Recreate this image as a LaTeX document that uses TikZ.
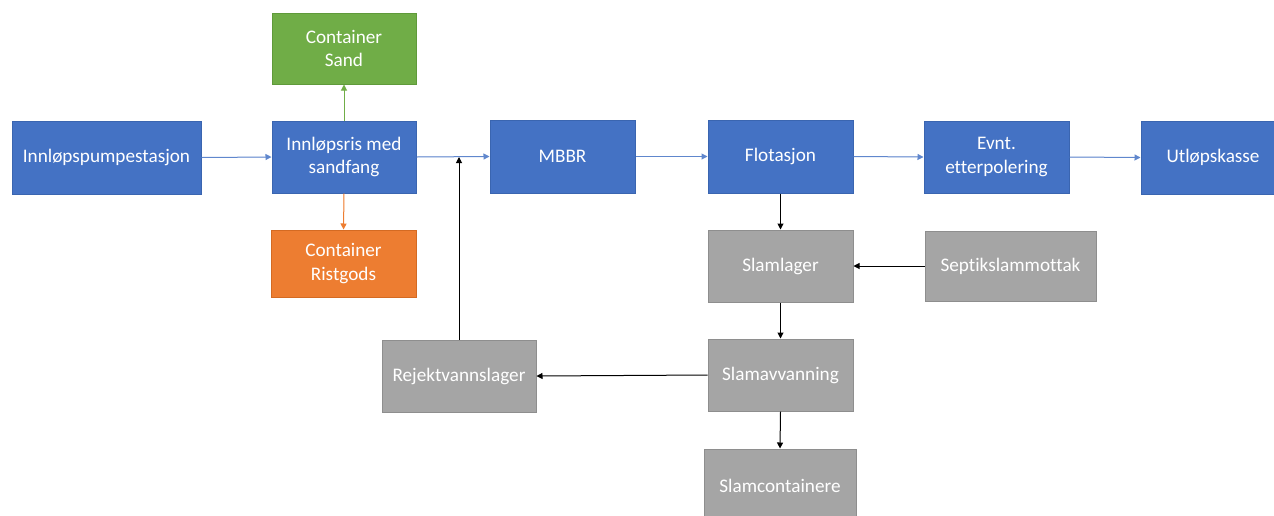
\documentclass[tikz,border=0pt]{standalone}
\usepackage{fontspec}
\setmainfont[Ligatures=NoCommon]{Carlito}
\usetikzlibrary{arrows.meta}
\definecolor{cblue}{HTML}{4472C4}
\definecolor{cbluedk}{HTML}{3A65B0}
\definecolor{cgreen}{HTML}{70AD47}
\definecolor{cgreendk}{HTML}{5F9A3A}
\definecolor{corange}{HTML}{ED7D31}
\definecolor{corangedk}{HTML}{D46A22}
\definecolor{cgray}{HTML}{A5A5A5}
\definecolor{cgraydk}{HTML}{8E8E8E}
\tikzset{
  box/.style={rectangle, inner sep=0pt, text=white, align=center,
    font=\fontsize{19.2}{23.5}\selectfont, line width=1pt},
  bluebox/.style={box, fill=cblue, draw=cbluedk},
  greenbox/.style={box, fill=cgreen, draw=cgreendk},
  orangebox/.style={box, fill=corange, draw=corangedk},
  graybox/.style={box, fill=cgray, draw=cgraydk},
  arr/.style={line width=1pt, -{Triangle[length=6pt,width=6pt]}},
  bluearr/.style={arr, draw=cblue!85!white, fill=cblue},
  blackarr/.style={arr, draw=black},
}
\begin{document}
\begin{tikzpicture}[x=1pt,y=-1pt]
\useasboundingbox (0,0) rectangle (1274,515);
\clip (0,0) rectangle (1274,515);
\node[bluebox, minimum width=189pt, minimum height=73pt] (pump) at (106.5,157.5) {Innløpspumpestasjon};
\node[bluebox, minimum width=144pt, minimum height=72pt] (ris) at (344,157) {Innløpsris med\\sandfang};
\node[greenbox, minimum width=144pt, minimum height=71pt] (sand) at (344,48.5) {Container\\Sand};
\node[orangebox, minimum width=145pt, minimum height=67pt] (rist) at (343.5,263.5) {Container\\Ristgods};
\node[bluebox, minimum width=145pt, minimum height=73pt] (mbbr) at (562.5,156.5) {MBBR};
\node[bluebox, minimum width=145pt, minimum height=73pt] (flot) at (780.5,156.5) {Flotasjon};
\node[bluebox, minimum width=145pt, minimum height=72pt] (evnt) at (996.5,157) {Evnt.\\etterpolering};
\node[bluebox, minimum width=144pt, minimum height=73pt] (utl) at (1213,157.5) {Utløpskasse};
\node[graybox, minimum width=145pt, minimum height=72pt] (slamlager) at (780.5,266) {Slamlager};
\node[graybox, minimum width=171pt, minimum height=70pt] (septik) at (1010.5,266) {Septikslammottak};
\node[graybox, minimum width=145pt, minimum height=72pt] (slamav) at (780.5,375) {Slamavvanning};
\node[graybox, minimum width=154pt, minimum height=72pt] (rejekt) at (459,376) {Rejektvannslager};
\node[graybox, minimum width=152pt, minimum height=73pt] (slamcont) at (780,485.5) {Slamcontainere};

\draw[bluearr] (pump.east) -- (ris.west);
\draw[bluearr] (ris.east) -- (mbbr.west);
\draw[bluearr] (mbbr.east) -- (flot.west);
\draw[bluearr] (flot.east) -- (evnt.west);
\draw[bluearr] (evnt.east) -- (utl.west);
\draw[arr, draw=cgreen, fill=cgreen] (ris.north) -- (sand.south);
\draw[arr, draw=corange, fill=corange] (ris.south) -- (rist.north);
\draw[blackarr] (flot.south) -- (slamlager.north);
\draw[blackarr] (septik.west) -- (slamlager.east);
\draw[blackarr] (slamlager.south) -- (slamav.north);
\draw[blackarr] (slamav.west) -- (rejekt.east);
\draw[blackarr] (slamav.south) -- (slamcont.north);
\draw[blackarr] (rejekt.north) -- (rejekt.north |- ris.east);
\end{tikzpicture}
\end{document}
